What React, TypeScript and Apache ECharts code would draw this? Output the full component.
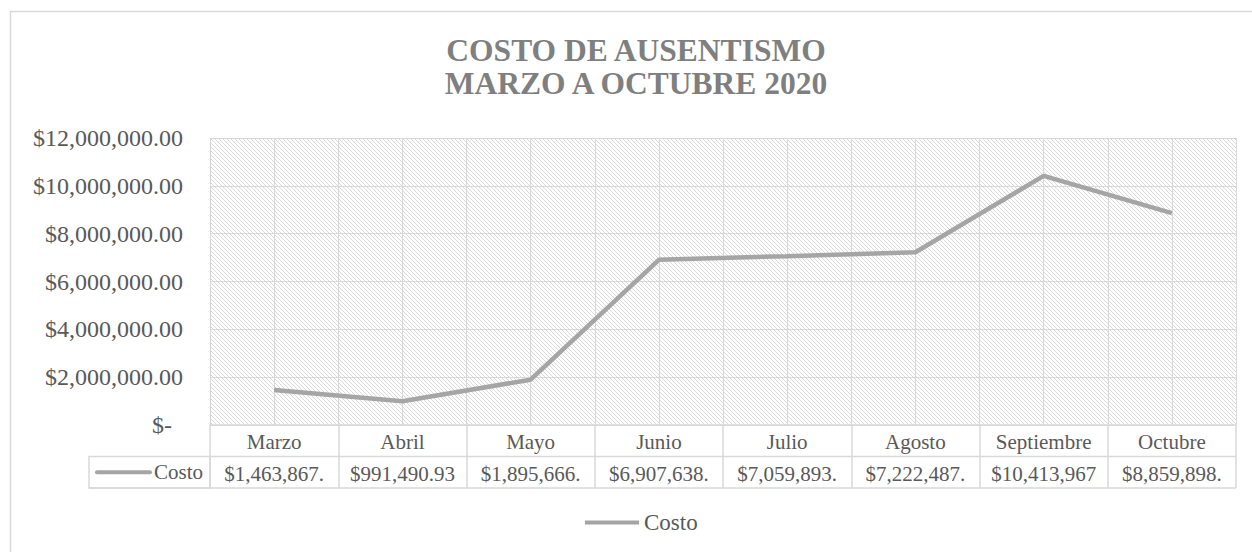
import React, { useEffect, useRef } from 'react';
import * as echarts from 'echarts';

const categories = ['Marzo', 'Abril', 'Mayo', 'Junio', 'Julio', 'Agosto', 'Septiembre', 'Octubre'];
const costo = [1463867.0, 991490.93, 1895666.0, 6907638.0, 7059893.0, 7222487.0, 10413967.0, 8859898.0];
const seriesName = 'Costo';
const titleLines = ['COSTO DE AUSENTISMO', 'MARZO A OCTUBRE 2020'];
const yMin = 0;
const yMax = 12000000;
const yStep = 2000000;

const FONT = "'Liberation Serif', 'Times New Roman', serif";
const TEXT = '#595959';
const GRIDC = '#d9d9d9';
const LINEC = '#a5a5a5';

const money = (v: number) =>
  '$' + v.toLocaleString('en-US', { minimumFractionDigits: 2, maximumFractionDigits: 2 });
const tableText = costo.map((v) => money(v).slice(0, 11));

const G = { left: 210, top: 138, width: 1026, height: 287 };
const ROW = 31.5;

export default function App() {
  const ref = useRef<HTMLDivElement>(null);
  useEffect(() => {
    if (!ref.current) return;
    const chart = echarts.init(ref.current, undefined, { renderer: 'svg' });

    const cv = document.createElement('canvas');
    cv.width = 4;
    cv.height = 4;
    const ctx = cv.getContext('2d')!;
    ctx.fillStyle = '#ffffff';
    ctx.fillRect(0, 0, 4, 4);
    ctx.fillStyle = '#dadada';
    for (let i = 0; i < 4; i++) ctx.fillRect(i, i, 1, 1);
    const pattern: any = { image: cv, repeat: 'repeat', imageWidth: 4, imageHeight: 4 };

    const bottom = G.top + G.height;
    const right = G.left + G.width;

    chart.setOption({
      animation: false,
      grid: {
        left: G.left,
        top: G.top,
        width: G.width,
        height: G.height,
        show: true,
        backgroundColor: pattern,
        borderWidth: 0,
        outerBoundsMode: 'none',
      },
      legend: {
        data: [seriesName],
        left: 580,
        top: 506,
        icon: 'rect',
        itemWidth: 54,
        itemHeight: 4,
        textStyle: { fontFamily: FONT, fontSize: 23, color: TEXT },
      },
      xAxis: [
        {
          type: 'category',
          data: categories,
          boundaryGap: true,
          position: 'bottom',
          axisLine: { show: true, lineStyle: { color: GRIDC, width: 1.5 } },
          axisTick: { show: true, length: ROW * 2, interval: 0, lineStyle: { color: GRIDC, width: 1.5 } },
          axisLabel: { interval: 0, margin: 6, fontFamily: FONT, fontSize: 21, color: TEXT, lineHeight: 21 },
          splitLine: { show: false },
        },
        {
          type: 'category',
          data: tableText,
          boundaryGap: true,
          position: 'bottom',
          offset: ROW,
          axisLine: { show: false },
          axisTick: { show: false },
          axisLabel: { interval: 0, margin: 7, fontFamily: FONT, fontSize: 21, color: TEXT, lineHeight: 21 },
          splitLine: { show: false },
        },
        {
          type: 'value',
          min: 0,
          max: categories.length * 2,
          interval: 1,
          axisLine: { show: false },
          axisTick: { show: false },
          axisLabel: { show: false },
          splitLine: { show: true, lineStyle: { color: GRIDC, width: 1 } },
        },
      ],
      yAxis: {
        type: 'value',
        min: yMin,
        max: yMax,
        interval: yStep,
        axisLine: { show: false },
        axisTick: { show: false },
        splitLine: { show: true, lineStyle: { color: GRIDC, width: 1 } },
        axisLabel: {
          margin: 27,
          fontFamily: FONT,
          fontSize: 24,
          color: TEXT,
          formatter: (v: number) => (v === 0 ? '{z|$-}' : money(v)),
          rich: { z: { fontFamily: FONT, fontSize: 24, color: TEXT, padding: [0, 11, 0, 0] } },
        },
      },
      series: [
        {
          type: 'line',
          name: seriesName,
          data: costo,
          xAxisIndex: 0,
          yAxisIndex: 0,
          symbol: 'none',
          showSymbol: false,
          lineStyle: { color: LINEC, width: 4.5 },
          itemStyle: { color: LINEC },
          z: 5,
        },
      ],
      graphic: [
        {
          type: 'rect',
          shape: { x: 10.5, y: 11.5, width: 1300, height: 600 },
          style: { fill: 'none', stroke: GRIDC, lineWidth: 1.5 },
          silent: true,
        },
        {
          type: 'text',
          x: 636,
          y: 50,
          style: {
            text: titleLines[0],
            fontFamily: FONT,
            fontSize: 31.5,
            fontWeight: 'bold',
            fill: '#7f7f7f',
            align: 'center',
            verticalAlign: 'middle',
          },
        },
        {
          type: 'text',
          x: 636,
          y: 83,
          style: {
            text: titleLines[1],
            fontFamily: FONT,
            fontSize: 31.5,
            fontWeight: 'bold',
            fill: '#7f7f7f',
            align: 'center',
            verticalAlign: 'middle',
          },
        },
        {
          type: 'line',
          shape: { x1: G.left, y1: bottom + ROW, x2: right, y2: bottom + ROW },
          style: { stroke: GRIDC, lineWidth: 1.5 },
        },
        {
          type: 'line',
          shape: { x1: 89, y1: bottom + ROW * 2, x2: right, y2: bottom + ROW * 2 },
          style: { stroke: GRIDC, lineWidth: 1.5 },
        },
        {
          type: 'rect',
          shape: { x: 89, y: bottom + ROW, width: G.left - 89, height: ROW },
          style: { fill: 'none', stroke: GRIDC, lineWidth: 1.5 },
        },
        {
          type: 'line',
          shape: { x1: 97, y1: bottom + ROW * 1.5, x2: 150, y2: bottom + ROW * 1.5 },
          style: { stroke: LINEC, lineWidth: 4, lineCap: 'round' },
        },
        {
          type: 'text',
          x: 203,
          y: bottom + ROW * 1.5,
          style: {
            text: seriesName,
            fontFamily: FONT,
            fontSize: 21,
            fill: TEXT,
            align: 'right',
            verticalAlign: 'middle',
          },
        },
      ],
    });
    return () => chart.dispose();
  }, []);
  return (
    <div
      ref={ref}
      style={{ position: 'absolute', left: 0, top: 0, width: 1252, height: 552, background: '#ffffff' }}
    />
  );
}
